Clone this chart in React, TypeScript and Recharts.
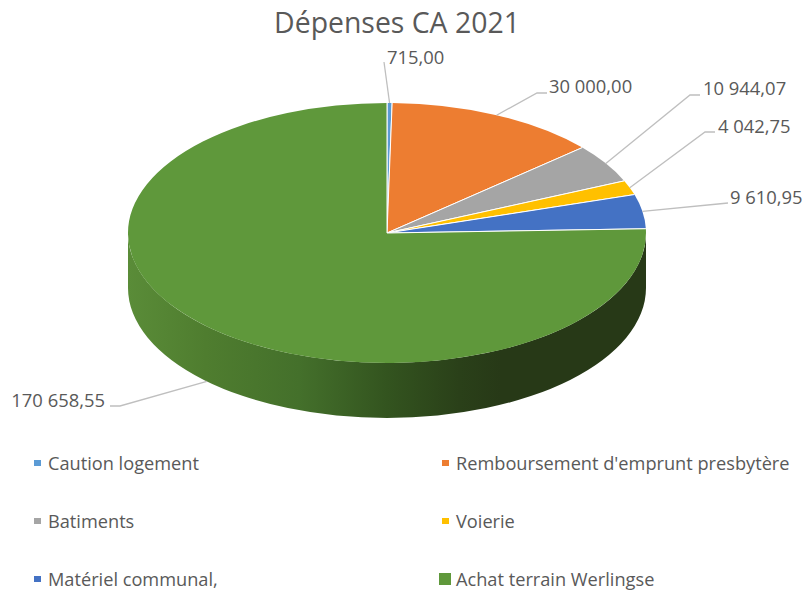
import { Legend, Pie, PieChart, Sector } from "recharts";

const categories = [
  "Caution logement",
  "Remboursement d'emprunt presbytère",
  "Batiments",
  "Voierie",
  "Matériel communal,",
  "Achat terrain Werlingse",
];
const amounts = [715, 30000, 10944.07, 4042.75, 9610.95, 170658.55];
const colors = ["#5B9BD5", "#ED7D31", "#A5A5A5", "#FFC000", "#4472C4", "#5F983B"];

const data = categories.map((name, i) => ({ name, value: amounts[i], fill: colors[i] }));

const WIDTH = 806;
const HEIGHT = 592;
const CX = 387;
const CY = 233;
const RX = 259;
const RY = 130;
const DEPTH = 55;
const FONT = "'Open Sans', sans-serif";
const TEXT = "#595959";

// leader line elbow + text spot for each slice
const callouts = [
  { elbow: [384, 62], end: [384, 62], text: [387, 56], anchor: "start" },
  { elbow: [537, 93], end: [547, 93], text: [549, 85], anchor: "start" },
  { elbow: [690, 95], end: [700, 95], text: [703, 87], anchor: "start" },
  { elbow: [705, 132], end: [715, 132], text: [718, 125], anchor: "start" },
  { elbow: [718, 204], end: [728, 203], text: [730, 196], anchor: "start" },
  { elbow: [120, 406], end: [110, 406], text: [105, 399], anchor: "end" },
];

const formatAmount = (v: number) =>
  v.toFixed(2).replace(".", ",").replace(/\B(?=(\d{3})(?!\d))/g, " ");

const onEllipse = (angle: number) => {
  const rad = (angle * Math.PI) / 180;
  return { x: CX + RX * Math.cos(rad), y: CY - RY * Math.sin(rad) };
};

function Slice(props: any) {
  const { cx, cy, outerRadius, startAngle, endAngle, fill, index } = props;
  const squash = `translate(0 ${cy}) scale(1 ${RY / RX}) translate(0 ${-cy})`;
  const a = onEllipse(startAngle);
  const b = onEllipse(endAngle);
  return (
    <g>
      {index === categories.length - 1 && (
        <path
          d={`M${cx + RX} ${cy} A${RX} ${RY} 0 0 1 ${cx - RX} ${cy} L${cx - RX} ${cy + DEPTH} A${RX} ${RY} 0 0 0 ${cx + RX} ${cy + DEPTH} Z`}
          fill="url(#wall)"
        />
      )}
      <g transform={squash}>
        <Sector cx={cx} cy={cy} innerRadius={0} outerRadius={outerRadius} startAngle={startAngle} endAngle={endAngle} fill={fill} stroke="none" />
      </g>
      <path d={`M${a.x} ${a.y} L${cx} ${cy} L${b.x} ${b.y}`} fill="none" stroke="#fff" strokeWidth={1} />
    </g>
  );
}

function Callout(props: any) {
  const { midAngle, index, value } = props;
  const c = callouts[index];
  const p = onEllipse(midAngle);
  // the big slice's leader starts from the bottom of its wall
  const startY = index === categories.length - 1 ? p.y + DEPTH : p.y;
  return (
    <g>
      <polyline
        points={`${p.x},${startY} ${c.elbow.join(",")} ${c.end.join(",")}`}
        fill="none"
        stroke="#BFBFBF"
        strokeWidth={1.3}
      />
      <text x={c.text[0]} y={c.text[1]} textAnchor={c.anchor} dominantBaseline="central" fontFamily={FONT} fontSize={18.4} fill={TEXT}>
        {formatAmount(value)}
      </text>
    </g>
  );
}

function LegendBlock({ payload }: any) {
  return (
    <div style={{ position: "relative", width: WIDTH, height: 150, fontFamily: FONT, fontSize: 18.2, color: TEXT }}>
      {(payload ?? []).map((item: any, i: number) => {
        const col = i % 2;
        const row = Math.floor(i / 2);
        const big = i === categories.length - 1;
        const size = big ? 12 : 6;
        return (
          <div key={item.value} style={{ position: "absolute", left: col ? 456 : 48, top: row * 58, height: 24, lineHeight: "24px", whiteSpace: "nowrap" }}>
            <span
              style={{
                position: "absolute",
                left: big ? -17 : -14,
                top: 12 - size / 2,
                width: big ? 12 : 7,
                height: size,
                background: item.color,
              }}
            />
            {item.value}
          </div>
        );
      })}
    </div>
  );
}

export default function App() {
  return (
    <div style={{ position: "absolute", left: 0, top: 0, width: WIDTH, height: HEIGHT, background: "#fff" }}>
      <PieChart width={WIDTH} height={HEIGHT} margin={{ top: 0, right: 0, bottom: 0, left: 0 }}>
        <defs>
          <linearGradient id="wall" x1="0" y1="0" x2="1" y2="0">
            <stop offset="0%" stopColor="#5A8C38" />
            <stop offset="15%" stopColor="#4F7D2F" />
            <stop offset="33%" stopColor="#44702B" />
            <stop offset="50%" stopColor="#33541F" />
            <stop offset="64%" stopColor="#2A4019" />
            <stop offset="72%" stopColor="#273917" />
            <stop offset="100%" stopColor="#273917" />
          </linearGradient>
        </defs>
        <text x={397} y={22} textAnchor="middle" dominantBaseline="central" fontFamily={FONT} fontSize={28.4} fill={TEXT}>
          Dépenses CA 2021
        </text>
        <Pie
          data={data}
          dataKey="value"
          nameKey="name"
          cx={CX}
          cy={CY}
          innerRadius={0}
          outerRadius={RX}
          startAngle={90}
          endAngle={-270}
          stroke="none"
          shape={Slice}
          label={Callout}
          labelLine={false}
          isAnimationActive={false}
        />
        <Legend
          layout="horizontal"
          verticalAlign="bottom"
          align="left"
          itemSorter={null}
          wrapperStyle={{ left: 0, top: 451, bottom: "auto", width: WIDTH, margin: 0, padding: 0 }}
          content={<LegendBlock />}
        />
      </PieChart>
    </div>
  );
}
